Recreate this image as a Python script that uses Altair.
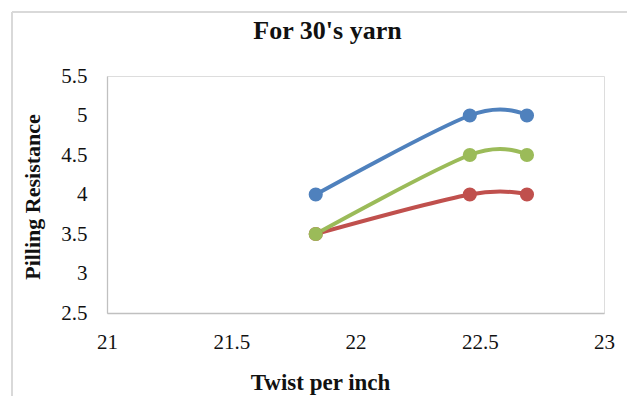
import altair as alt
import pandas as pd

chart_title = "For 30's yarn"

# Twist per inch for the three samples
twist = [21.84, 22.46, 22.69]

# Pilling resistance grades per series
series_names = ["Series 1", "Series 2", "Series 3"]
blue_vals = [4.0, 5.0, 5.0]
red_vals = [3.5, 4.0, 4.0]
green_vals = [3.5, 4.5, 4.5]
series_colors = ["#4F81BD", "#C0504D", "#9BBB59"]

x_ticks = [21, 21.5, 22, 22.5, 23]
y_ticks = [2.5, 3, 3.5, 4, 4.5, 5, 5.5]

rows = []
for order, (name, vals) in enumerate(zip(series_names, [blue_vals, red_vals, green_vals])):
    for t, v in zip(twist, vals):
        rows.append({"series": name, "twist": t, "pilling": v, "order": order})
df = pd.DataFrame(rows)

W, H = 497, 237
FONT = "Liberation Serif"
AXIS_GRAY = "#c0c0c0"

x_enc = alt.X(
    "twist:Q",
    scale=alt.Scale(domain=[21, 23], nice=False, zero=False),
    axis=alt.Axis(
        values=x_ticks, format="~g", title="Twist per inch",
        grid=False, ticks=False, tickSize=0, domain=True,
        domainColor=AXIS_GRAY, domainWidth=1.3,
        labelBaseline="alphabetic", labelPadding=35, labelOverlap=False,
        labelFontSize=21, labelFont=FONT, labelColor="#111", labelFlush=False,
        titleFont=FONT, titleFontSize=23, titleFontWeight="bold", titleColor="#111",
        titleX=213, titleY=76, titleBaseline="alphabetic", titleAlign="center",
    ),
)
y_enc = alt.Y(
    "pilling:Q",
    scale=alt.Scale(domain=[2.5, 5.5], nice=False, zero=False),
    axis=alt.Axis(
        values=y_ticks, format="~g", title="Pilling Resistance",
        grid=False, ticks=False, tickSize=0, domain=True,
        domainColor=AXIS_GRAY, domainWidth=1.3,
        labelPadding=20, labelOverlap=False,
        labelFontSize=21, labelFont=FONT, labelColor="#111", labelFlush=False,
        titleFont=FONT, titleFontSize=22, titleFontWeight="bold", titleColor="#111",
        titleX=-68, titleY=120.5, titleAngle=-90, titleAlign="center",
        titleBaseline="alphabetic",
    ),
)
color_enc = alt.Color(
    "series:N",
    scale=alt.Scale(domain=series_names, range=series_colors),
    legend=None,
)

base = alt.Chart(df)
lines = base.mark_line(interpolate="cardinal", strokeWidth=4).encode(
    x=x_enc, y=y_enc, color=color_enc, detail="series:N", order=alt.Order("twist:Q")
)
points = base.mark_circle(size=200, opacity=1).encode(
    x=x_enc, y=y_enc, color=color_enc, order=alt.Order("order:Q")
)

# Light frame around the chart area
frame_left = alt.Chart(df).mark_rule(color="#d9d9d9", strokeWidth=1.5).encode(
    x=alt.value(-95), y=alt.value(-64), y2=alt.value(330)
)
frame_top = alt.Chart(df).mark_rule(color="#d9d9d9", strokeWidth=1.5).encode(
    x=alt.value(-95), x2=alt.value(530), y=alt.value(-64)
)

# Chart heading, placed inside the frame
heading = alt.Chart(pd.DataFrame({"label": [chart_title]})).mark_text(
    font=FONT, fontSize=26, fontWeight="bold", color="#111",
    align="center", baseline="alphabetic",
).encode(text="label:N", x=alt.value(220.5), y=alt.value(-37))

chart = (
    alt.layer(frame_left, frame_top, heading, lines, points)
    .properties(
        width=W, height=H,
        autosize=alt.AutoSizeParams(type="none"),
        padding={"left": 107, "top": 76, "right": 23, "bottom": 83},
    )
    .configure_view(strokeWidth=0, stroke="transparent")
    .configure(background="white")
)

chart.save("out.html", embed_options={"renderer": "svg", "actions": False})
